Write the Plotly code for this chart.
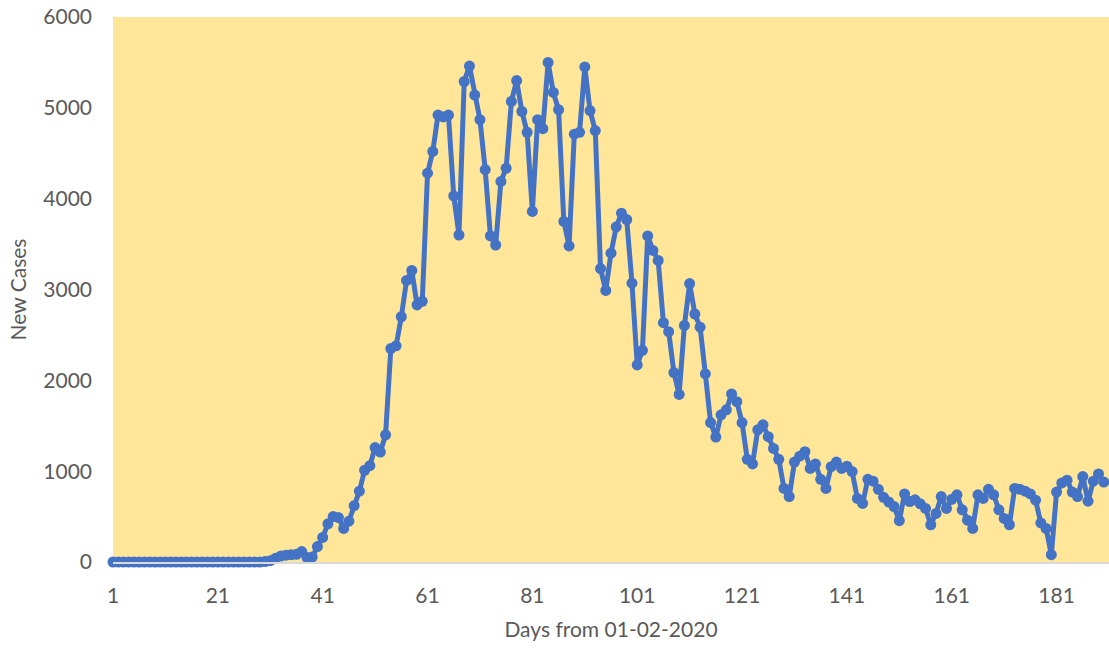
import plotly.graph_objects as go

# Day index (days from 01-02-2020)
days = list(range(1, 191))

# New cases per day
cases_1_29 = [0] * 29
cases_30_60 = [5, 15, 40, 65, 75, 80, 85, 115, 50, 55,
               170, 270, 420, 500, 490, 370, 450, 620, 780, 1010,
               1060, 1260, 1210, 1400, 2350, 2380, 2700, 3100, 3210, 2830,
               2870]
cases_61_90 = [4280, 4520, 4920, 4900, 4920, 4030, 3600, 5290, 5460, 5140,
               4870, 4320, 3590, 3490, 4190, 4335, 5070, 5300, 4960, 4730,
               3860, 4870, 4770, 5500, 5170, 4980, 3750, 3480, 4710, 4730]
cases_91_120 = [5450, 4970, 4750, 3230, 2990, 3400, 3690, 3840, 3770, 3070,
                2170, 2330, 3590, 3430, 3320, 2635, 2536, 2085, 1845, 2605,
                3065, 2730, 2585, 2070, 1535, 1375, 1620, 1675, 1850, 1765]
cases_121_150 = [1535, 1130, 1080, 1455, 1510, 1380, 1250, 1130, 810, 720,
                 1100, 1165, 1215, 1030, 1080, 910, 810, 1050, 1100, 1030,
                 1055, 995, 700, 645, 910, 890, 800, 712, 660, 610]
cases_151_190 = [455, 750, 665, 685, 640, 590, 410, 535, 720, 590,
                 690, 740, 575, 460, 370, 740, 700, 800, 740, 575,
                 480, 410, 810, 800, 780, 750, 680, 430, 370, 80,
                 770, 870, 900, 770, 720, 940, 670, 890, 970, 880]

new_cases = (cases_1_29 + cases_30_60 + cases_61_90 + cases_91_120
             + cases_121_150 + cases_151_190)

x_tick_vals = list(range(1, 191, 20))
y_tick_vals = [0, 1000, 2000, 3000, 4000, 5000, 6000]

BLUE = "#4472C4"
YELLOW = "#FFE699"
GREY_TEXT = "#595959"
FONT = "Lato"

fig = go.Figure()
fig.add_trace(go.Scatter(
    x=days, y=new_cases, mode="lines+markers",
    line=dict(color=BLUE, width=5),
    marker=dict(color=BLUE, size=11, line=dict(width=0)),
    cliponaxis=False, showlegend=False,
))

fig.update_layout(
    width=1109, height=649, autosize=False,
    margin=dict(l=113, r=0, t=17, b=87),
    paper_bgcolor="white", plot_bgcolor=YELLOW,
    font=dict(family=FONT, color=GREY_TEXT, size=21),
)
fig.update_xaxes(
    range=[1, 191], tickvals=x_tick_vals, ticktext=[str(v) for v in x_tick_vals],
    showgrid=False, zeroline=False,
    showline=True, linecolor="#D9D9D9", linewidth=2,
    ticks="", ticklabelstandoff=14,
    tickfont=dict(family=FONT, size=21, color=GREY_TEXT),
    title=dict(text="Days from 01-02-2020", standoff=16,
               font=dict(family=FONT, size=21, color=GREY_TEXT)),
)
fig.update_yaxes(
    range=[0, 6000], tickvals=y_tick_vals, ticktext=[str(v) for v in y_tick_vals],
    showgrid=False, zeroline=False, showline=False,
    ticks="", ticklabelstandoff=20,
    tickfont=dict(family=FONT, size=21, color=GREY_TEXT),
    title=dict(text="New Cases", standoff=10,
               font=dict(family=FONT, size=21, color=GREY_TEXT)),
)

fig.write_html("out.html",
               config={"displayModeBar": False},
               post_script="document.body.style.margin='0';document.body.style.overflow='hidden';")
